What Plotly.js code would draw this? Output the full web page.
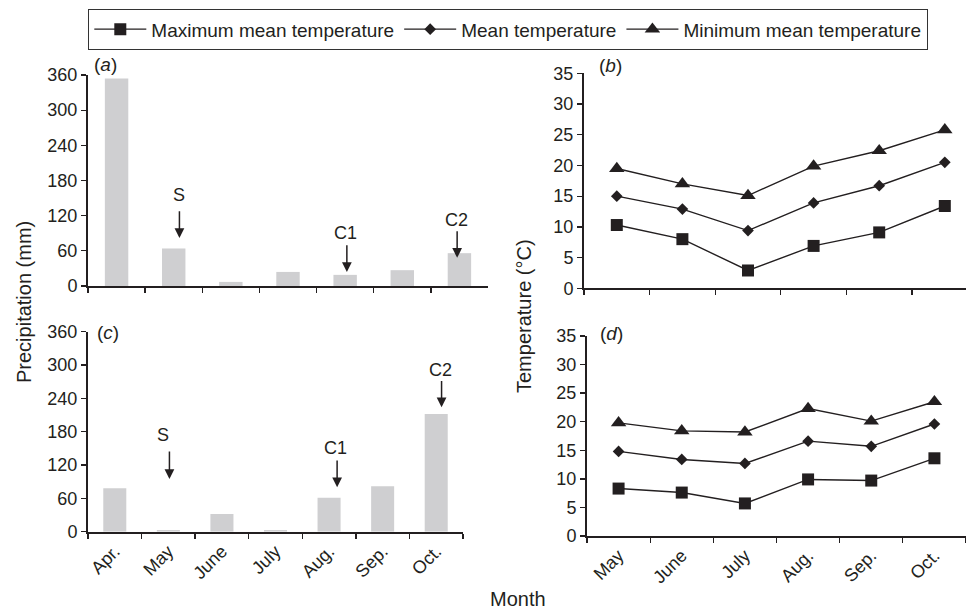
<!DOCTYPE html>
<html>
<head>
<meta charset="utf-8">
<script src="https://cdn.plot.ly/plotly-3.0.1.min.js"></script>
<style>html,body{margin:0;padding:0;background:#fff;}#chart{width:966px;height:610px;}</style>
</head>
<body>
<div id="chart"></div>
<script>
// ---- data ----
const months7 = ['Apr.', 'May', 'June', 'July', 'Aug.', 'Sep.', 'Oct.'];
const precipA = [354, 64, 7, 24, 19, 27, 56];
const precipC = [78, 3, 32, 3, 61, 82, 212];

const months6 = ['May', 'June', 'July', 'Aug.', 'Sep.', 'Oct.'];
const maxB  = [10.3, 8.0, 2.9, 6.9, 9.1, 13.4];
const meanB = [15.0, 12.9, 9.4, 13.9, 16.7, 20.5];
const minB  = [19.5, 17.0, 15.1, 19.9, 22.4, 25.8];
const maxD  = [8.3, 7.6, 5.7, 9.9, 9.7, 13.6];
const meanD = [14.8, 13.4, 12.7, 16.6, 15.7, 19.6];
const minD  = [19.8, 18.4, 18.2, 22.3, 20.1, 23.5];

const seriesNames = ['Maximum mean temperature', 'Mean temperature', 'Minimum mean temperature'];
const precipTicks = [0, 60, 120, 180, 240, 300, 360];
const tempTicks = [0, 5, 10, 15, 20, 25, 30, 35];

// ---- styling ----
const W = 966, H = 610;
const FONT = '"Liberation Sans", Arial, Helvetica, sans-serif';
const INK = '#231f20';
const BAR = '#cfcfd1';
const px = v => v / W;
const py = v => 1 - v / H;

const symbols = ['square', 'diamond', 'triangle-up'];
const sizes = [12, 9, 13.5];

function lineTraces(xa, ya, arrays, showLegend) {
  return arrays.map((arr, i) => ({
    type: 'scatter', mode: 'lines+markers',
    x: months6, y: arr, xaxis: xa, yaxis: ya,
    name: seriesNames[i], showlegend: showLegend, legendgroup: 'g' + i,
    line: {color: INK, width: 1.4},
    marker: {symbol: symbols[i], size: sizes[i], color: INK},
    cliponaxis: false
  }));
}

const data = [
  {type: 'bar', x: months7, y: precipA, xaxis: 'x', yaxis: 'y', marker: {color: BAR}, width: 0.41, showlegend: false},
  {type: 'bar', x: months7, y: precipC, xaxis: 'x3', yaxis: 'y3', marker: {color: BAR}, width: 0.43, showlegend: false},
  ...lineTraces('x2', 'y2', [maxB, meanB, minB], true),
  ...lineTraces('x4', 'y4', [maxD, meanD, minD], false)
];

function xaxis(domain, range, showLabels, anchor) {
  return {
    domain: domain, type: 'category', range: range, anchor: anchor,
    showline: true, linecolor: INK, linewidth: 2,
    ticks: 'outside', tickson: 'boundaries', ticklen: 5, tickwidth: 1.3, tickcolor: INK,
    showgrid: false, zeroline: false, showticklabels: showLabels,
    tickangle: -45, tickfont: {family: FONT, size: 18, color: INK},
    fixedrange: true
  };
}
function yaxis(domain, range, tickv, anchor) {
  return {
    domain: domain, range: range, tickmode: 'array', tickvals: tickv, anchor: anchor,
    showline: true, linecolor: INK, linewidth: 2,
    ticks: 'outside', ticklen: 5, tickwidth: 1.3, tickcolor: INK,
    showgrid: false, zeroline: false,
    tickfont: {family: FONT, size: 18, color: INK}, fixedrange: true
  };
}

function arrow(xref, yref, x, yHead, yTail) {
  return {xref: xref, yref: yref, axref: xref, ayref: yref, x: x, y: yHead, ax: x, ay: yTail,
    text: '', showarrow: true, arrowhead: 2, arrowsize: 1.3, arrowwidth: 1.5, arrowcolor: INK};
}
function label(xref, yref, x, y, t) {
  return {xref: xref, yref: yref, x: x, y: y, text: t, showarrow: false,
    font: {family: FONT, size: 18, color: INK}};
}
function paperText(x, y, t, size, angle) {
  return {xref: 'paper', yref: 'paper', x: px(x), y: py(y), text: t, showarrow: false,
    xanchor: 'center', yanchor: 'middle', textangle: angle || 0,
    font: {family: FONT, size: size, color: INK}};
}

const annotations = [
  // panel a markers
  label('x', 'y', 1.1, 155, 'S'), arrow('x', 'y', 1.1, 82, 130),
  label('x', 'y', 4.0, 90, 'C1'), arrow('x', 'y', 4.03, 24, 72),
  label('x', 'y', 5.94, 113, 'C2'), arrow('x', 'y', 5.96, 48, 96),
  // panel c markers
  label('x3', 'y3', 0.9, 174, 'S'), arrow('x3', 'y3', 1.02, 95, 147),
  label('x3', 'y3', 4.12, 150, 'C1'), arrow('x3', 'y3', 4.15, 80, 131),
  label('x3', 'y3', 6.08, 291, 'C2'), arrow('x3', 'y3', 6.1, 224, 274),
  // panel letters
  paperText(105, 64, '(<i>a</i>)', 19),
  paperText(610, 66, '(<i>b</i>)', 19),
  paperText(108, 332, '(<i>c</i>)', 19),
  paperText(611, 333, '(<i>d</i>)', 19),
  // axis titles
  paperText(24, 302, 'Precipitation (mm)', 20, -90),
  paperText(524, 316, 'Temperature (°C)', 20, -90),
  paperText(518, 599, 'Month', 20)
];

const layout = {
  width: W, height: H,
  margin: {l: 0, r: 0, t: 0, b: 0},
  paper_bgcolor: '#fff', plot_bgcolor: 'rgba(0,0,0,0)',
  font: {family: FONT, color: INK},
  showlegend: true,
  legend: {
    orientation: 'h', x: px(88), y: py(9), xanchor: 'left', yanchor: 'top',
    bordercolor: '#333', borderwidth: 1.3, bgcolor: '#fff',
    font: {family: FONT, size: 19, color: INK},
    itemwidth: 52, traceorder: 'normal'
  },
  bargap: 0.6,
  xaxis:  xaxis([px(88), px(488)], [-0.5, 6.5], false, 'y'),
  yaxis:  yaxis([py(286), py(75)], [0, 360], precipTicks, 'x'),
  xaxis3: xaxis([px(88), px(463)], [-0.5, 6.5], true, 'y3'),
  yaxis3: yaxis([py(531.7), py(331.7)], [0, 360], precipTicks, 'x3'),
  xaxis2: xaxis([px(584), 1], [-0.5, 5.323], false, 'y2'),
  yaxis2: yaxis([py(288.3), py(73.3)], [0, 35], tempTicks, 'x2'),
  xaxis4: xaxis([px(587), 1], [-0.5, 5.5], true, 'y4'),
  yaxis4: yaxis([py(536), py(336)], [0, 35], tempTicks, 'x4'),
  annotations: annotations
};

Plotly.newPlot('chart', data, layout, {displayModeBar: false, staticPlot: true});
</script>
</body>
</html>
